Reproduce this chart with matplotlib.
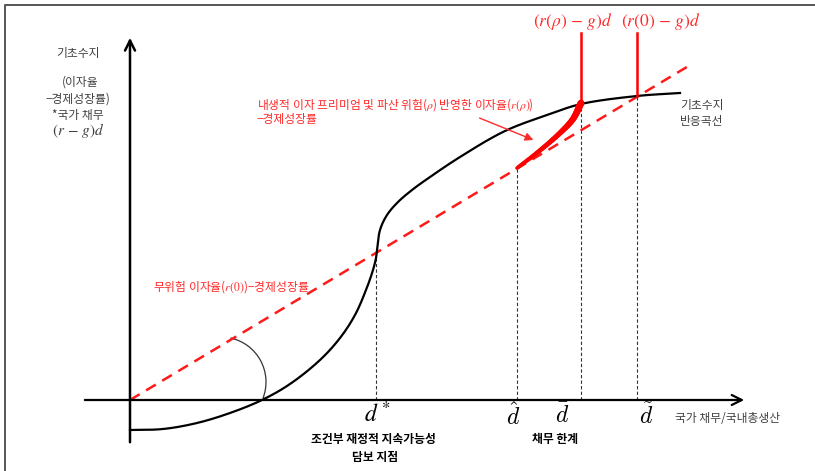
import numpy as np
import matplotlib
matplotlib.use("Agg")
import matplotlib.pyplot as plt
from matplotlib.patches import Arc

plt.rcParams['font.family'] = ['Noto Sans CJK KR', 'DejaVu Sans']
plt.rcParams['mathtext.fontset'] = 'stix'
plt.rcParams['axes.unicode_minus'] = True

# primary balance reaction curve (debt ratio, primary balance)
curve_d = [0, 33, 67, 100, 132, 160, 190, 210, 225, 236, 243, 246, 247,
           250, 257, 268, 282, 300, 330, 375, 420, 451, 507, 550]
curve_pb = [-30, -29, -23, -13, 0, 16, 40, 62, 85, 110, 130, 142, 150,
            170, 185, 198, 210, 223, 243, 269, 286, 296, 304, 307]

# interest burden with endogenous risk premium r(rho)
risky_d = [387, 408, 430, 443, 451]
risky_pb = [232, 248, 267, 281, 297]

# risk-free interest burden (r(0) - g) d
rf_slope = 0.598
rf_d = [0, 563]

# marked debt levels
d_star, d_hat, d_bar, d_tilde = 246, 387, 451, 507
top_pb = 367


def smooth(xs, ys, n=16, alpha=0.5):
    # centripetal Catmull-Rom through the given points
    p = np.column_stack([xs, ys]).astype(float)
    p = np.vstack([2 * p[0] - p[1], p, 2 * p[-1] - p[-2]])
    out = []
    for i in range(1, len(p) - 2):
        p0, p1, p2, p3 = p[i - 1], p[i], p[i + 1], p[i + 2]
        t0 = 0.0
        t1 = t0 + np.linalg.norm(p1 - p0) ** alpha
        t2 = t1 + np.linalg.norm(p2 - p1) ** alpha
        t3 = t2 + np.linalg.norm(p3 - p2) ** alpha
        t = np.linspace(t1, t2, n, endpoint=False)[:, None]
        a1 = (t1 - t) / (t1 - t0) * p0 + (t - t0) / (t1 - t0) * p1
        a2 = (t2 - t) / (t2 - t1) * p1 + (t - t1) / (t2 - t1) * p2
        a3 = (t3 - t) / (t3 - t2) * p2 + (t - t2) / (t3 - t2) * p3
        b1 = (t2 - t) / (t2 - t0) * a1 + (t - t0) / (t2 - t0) * a2
        b2 = (t3 - t) / (t3 - t1) * a2 + (t - t1) / (t3 - t1) * a3
        out.append((t2 - t) / (t2 - t1) * b1 + (t - t1) / (t2 - t1) * b2)
    out.append(p[-2][None, :])
    out = np.vstack(out)
    return out[:, 0], out[:, 1]


fig = plt.figure(figsize=(8.15, 4.71), dpi=100)
ax = fig.add_axes([0, 0, 1, 1])
ax.set_xlim(-130, 685)
ax.set_ylim(-71, 400)
ax.axis('off')

# frame
ax.plot([-125, -125, 685], [-71, 395, 395], color='#555555', lw=1.4, solid_capstyle='butt')

# axes with arrows
ax.annotate('', xy=(0, 365), xytext=(0, -45),
            arrowprops=dict(arrowstyle='->', lw=1.8, color='black', mutation_scale=18))
ax.annotate('', xy=(617, 0), xytext=(-48, 0),
            arrowprops=dict(arrowstyle='->', lw=1.6, color='black', mutation_scale=18))

cx, cy = smooth(curve_d, curve_pb)
pb_tilde = np.interp(d_tilde, cx, cy)

# guide lines down to the debt axis
for dv, top in [(d_star, 145), (d_hat, risky_pb[0]), (d_bar, risky_pb[-1]), (d_tilde, pb_tilde)]:
    ax.plot([dv, dv], [0, top], color='#333333', lw=0.8, ls=(0, (3, 2)))

# risk-free line
rf_d = np.array(rf_d)
ax.plot(rf_d, rf_slope * rf_d, color='#ff1a1a', lw=1.8, ls=(0, (4.5, 3)))

# reaction curve
ax.plot(cx, cy, color='black', lw=1.6)

# risky rate segment, thicker toward the debt limit
rx, ry = smooth(risky_d, risky_pb, n=12)
for i in range(len(rx) - 1):
    w = 2.6 + 2.4 * i / (len(rx) - 2)
    ax.plot(rx[i:i + 2], ry[i:i + 2], color='#ff0000', lw=w, solid_capstyle='round')

# red verticals
ax.plot([d_bar, d_bar], [risky_pb[-1], top_pb], color='#ff0000', lw=1.8)
ax.plot([d_tilde, d_tilde], [pb_tilde, top_pb], color='#ff0000', lw=1.8)

# angle mark
ax.add_patch(Arc((91, 18), 90, 90, theta1=-21, theta2=78, color='#333333', lw=0.9))

red = '#ff2a2a'
grey = '#404040'
fs = 8.5

# y-axis caption
ax.text(-52, 347, '기초수지', ha='center', va='center', fontsize=fs, color=grey)
ax.text(-50, 318, '(이자율', ha='center', va='center', fontsize=fs, color=grey)
ax.text(-52, 301, '−경제성장률)', ha='center', va='center', fontsize=fs, color=grey)
ax.text(-52, 285, '*국가 채무', ha='center', va='center', fontsize=fs, color=grey)
ax.text(-52, 270, r'$(r\,-\,g)d$', ha='center', va='center', fontsize=11, color=grey)

# red annotations
ax.text(127, 295, r'내생적 이자 프리미엄 및 파산 위험($\rho$) 반영한 이자율($r(\rho)$)',
        ha='left', va='center', fontsize=fs, color=red)
ax.text(127, 280, '−경제성장률', ha='left', va='center', fontsize=fs, color=red)
ax.annotate('', xy=(406, 259), xytext=(347, 283),
            arrowprops=dict(arrowstyle='-|>', lw=1.0, color=red, mutation_scale=12))
ax.text(23, 113, r'무위험 이자율($r(0)$)−경제성장률', ha='left', va='center',
        fontsize=fs, color=red)
ax.text(443, 379, r'$(r(\rho)\,-\,g)d$', ha='center', va='center', fontsize=12.5, color=red)
ax.text(531, 379, r'$(r(0)\,-\,g)d$', ha='center', va='center', fontsize=12.5, color=red)

# curve label
ax.text(550, 295, '기초수지', ha='left', va='center', fontsize=fs, color=grey)
ax.text(550, 278, '반응곡선', ha='left', va='center', fontsize=fs, color=grey)

# debt level labels
dfs = 17
ax.text(d_star + 2, -14, r'$d\ ^{*}$', ha='center', va='center', fontsize=dfs)
ax.text(d_hat - 4, -16, r'$\hat{d}$', ha='center', va='center', fontsize=dfs,
        math_fontfamily='cm')
ax.text(d_bar - 19, -16, r'$\bar{d}$', ha='center', va='center', fontsize=dfs,
        math_fontfamily='cm')
ax.text(d_tilde + 9, -16, r'$\tilde{d}$', ha='center', va='center', fontsize=dfs,
        math_fontfamily='cm')

ax.text(243, -40, '조건부 재정적 지속가능성', ha='center', va='center', fontsize=fs,
        fontweight='bold')
ax.text(245, -57, '담보 지점', ha='center', va='center', fontsize=fs, fontweight='bold')
ax.text(425, -40, '채무 한계', ha='center', va='center', fontsize=fs, fontweight='bold')
ax.text(545, -19, '국가 채무/국내총생산', ha='left', va='center', fontsize=fs, color=grey)

fig.savefig('out.png', dpi=100)
